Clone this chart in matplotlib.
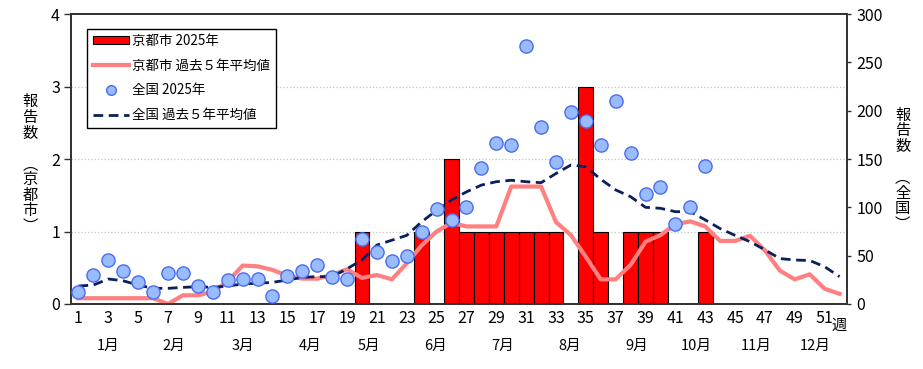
import matplotlib
matplotlib.use("Agg")
import matplotlib.pyplot as plt
import matplotlib.patches as mpatches
from matplotlib import font_manager

available = {f.name for f in font_manager.fontManager.ttflist}
fams = []
if 'Liberation Sans Narrow' in available:
    fams.append('Liberation Sans Narrow')
fams += ['Noto Sans CJK JP', 'DejaVu Sans']
plt.rcParams['font.family'] = fams

weeks = list(range(1, 53))
week_ticks = list(range(1, 52, 2))

# 京都市 2025年 (weeks 1-43)
kyoto_2025 = [0, 0, 0, 0, 0, 0, 0, 0, 0, 0,
              0, 0, 0, 0, 0, 0, 0, 0, 0, 1,
              0, 0, 0, 1, 0, 2, 1, 1, 1, 1,
              1, 1, 1, 0, 3, 1, 0, 1, 1, 1,
              0, 0, 1]

# 京都市 過去5年平均値
kyoto_avg = [0.08, 0.08, 0.08, 0.08, 0.08, 0.08, 0.0, 0.12, 0.12, 0.17,
             0.31, 0.53, 0.52, 0.47, 0.39, 0.35, 0.35, 0.40, 0.48, 0.36,
             0.40, 0.34, 0.56, 0.81, 1.00, 1.12, 1.07, 1.07, 1.07, 1.62,
             1.62, 1.62, 1.13, 0.95, 0.65, 0.34, 0.34, 0.54, 0.86, 0.95,
             1.10, 1.14, 1.07, 0.87, 0.87, 0.94, 0.74, 0.46, 0.34, 0.41,
             0.21, 0.14]

# 全国 2025年 (weeks 1-43)
national_2025 = [12, 30, 45.5, 34.5, 23, 12, 32.4, 32.4, 19, 12,
                 24.8, 25.5, 25.5, 8.3, 29.3, 34.5, 40.3, 28.3, 25.5, 67,
                 54, 45, 49.7, 74.5, 98, 87, 100, 141, 167, 164.5,
                 267, 183, 146.6, 198.6, 189.6, 164.5, 210, 156.5, 113.4, 120.7,
                 82.8, 100, 142.4]

# 全国 過去5年平均値
national_avg = [18.6, 19.6, 25.9, 24, 19.6, 16.2, 16.2, 17.2, 17.9, 17.2,
                18.6, 20.7, 21.4, 22.4, 24.8, 27.6, 28.3, 28.3, 36.5, 45.5,
                61, 66, 71, 85, 97, 107.6, 116, 123, 126.5, 128,
                126.5, 125.5, 135, 143.8, 142, 129, 118, 111, 100, 99,
                95.5, 95.5, 87, 78, 71, 64.5, 56, 47, 45.5, 45,
                38.6, 28.3]

months = ['1月', '2月', '3月', '4月', '5月', '6月', '7月', '8月', '9月', '10月', '11月', '12月']
month_pos = [3.0, 7.4, 12.0, 16.5, 20.5, 24.9, 29.4, 33.9, 38.4, 42.4, 46.4, 50.4]

fig = plt.figure(figsize=(9.23, 3.69), dpi=100)
ax = fig.add_axes([71/923, 1-304/369, (847-71)/923, (304-14)/369])
ax2 = ax.twinx()

fs = 11.5
spine_c = '#333333'

w25 = weeks[:len(kyoto_2025)]
ax.bar(w25, kyoto_2025, width=1.0, color='#FF0000', edgecolor='black', linewidth=0.8, zorder=2)
l_pink, = ax.plot(weeks, kyoto_avg, color='#FF8080', linewidth=3.0, zorder=3, solid_joinstyle='round')
ax.set_ylim(0, 4)
ax.set_xlim(0.5, 52.5)
ax.set_yticks([0, 1, 2, 3, 4])
for yv in [1, 2, 3]:
    ax.axhline(yv, color='#b8c8c8', linestyle=':', linewidth=0.9, zorder=1)

l_navy, = ax2.plot(weeks, national_avg, color='#0a1f5c', linewidth=2.0, linestyle=(0, (3.5, 2)), zorder=3)
l_circ, = ax2.plot(weeks[:len(national_2025)], national_2025, linestyle='none', marker='o',
                   markersize=9.5, markerfacecolor='#99BBFF', markeredgecolor='#4A6CF0',
                   markeredgewidth=1.0, zorder=4)
ax2.set_ylim(0, 300)
ax2.set_yticks([0, 50, 100, 150, 200, 250, 300])

ax.set_xticks(week_ticks)
ax.set_xticklabels([str(w) for w in week_ticks], fontsize=fs)
ax.tick_params(axis='x', length=0, pad=4)
ax.tick_params(axis='y', direction='out', length=5, width=1, color=spine_c, labelsize=fs, pad=3)
ax2.tick_params(axis='y', direction='out', length=3, width=1, color=spine_c, labelsize=fs, pad=4)

for a in (ax, ax2):
    for s in a.spines.values():
        s.set_color(spine_c)
        s.set_linewidth(1.3)

cjk = ['Noto Sans CJK JP', 'DejaVu Sans']
ax.text(51.95, -0.045, '週', transform=ax.get_xaxis_transform(), ha='center', va='top',
        fontsize=11, family=cjk)
for m, p in zip(months, month_pos):
    ax.text(p, -0.12, m, transform=ax.get_xaxis_transform(), ha='center', va='top', fontsize=10.5)

fig.text(0.0325, 0.555, '報\n告\n数\n\n︵\n京\n都\n市\n︶', ha='center', va='center',
         fontsize=11, linespacing=0.89, family=cjk)
fig.text(0.978, 0.54, '報\n告\n数\n\n︵\n全\n国\n︶', ha='center', va='center',
         fontsize=11, linespacing=0.89, family=cjk)

bar_h = mpatches.Patch(facecolor='#FF0000', edgecolor='black', linewidth=0.8)
leg = ax2.legend([bar_h, l_pink, l_circ, l_navy],
                 ['京都市 2025年', '京都市 過去５年平均値', '全国 2025年', '全国 過去５年平均値'],
                 loc='upper left', bbox_to_anchor=(0.021, 0.95), fontsize=9.7,
                 frameon=True, fancybox=False, edgecolor='black', framealpha=1,
                 handlelength=2.7, handleheight=0.5, labelspacing=0.8, borderpad=0.4,
                 handletextpad=0.25, borderaxespad=0)
leg.get_frame().set_linewidth(1.0)
leg.legend_handles[2].set_markersize(7)

fig.savefig('out.png', dpi=100)
